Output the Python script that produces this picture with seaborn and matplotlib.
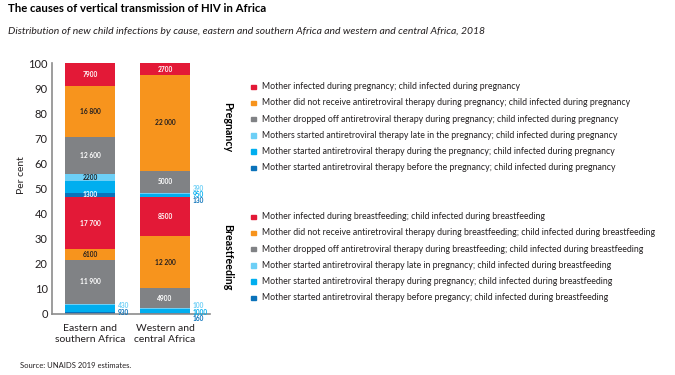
import matplotlib
matplotlib.use("Agg")
import numpy as np
import pandas as pd
import matplotlib.pyplot as plt
import seaborn as sns

# Categories on the x axis
regions = ["Eastern and\nsouthern Africa", "Western and\ncentral Africa"]

# Segment heights (per cent), bottom to top:
# breastfeeding (before, during, late, dropped off, no ART, infected),
# then pregnancy in the same order
east_pct = [0.8, 2.7, 0.6, 17.5, 4.2, 20.9, 1.6, 4.7, 2.6, 14.8, 20.4, 9.2]
west_pct = [0.2, 1.8, 0.3, 7.9, 20.9, 15.5, 0.2, 1.0, 0.5, 8.8, 38.1, 4.8]

# Counts written inside the segments
east_labels = ["", "", "", "11 900", "6100", "17 700", "1300", "", "2200", "12 600", "16 800", "7900"]
west_labels = ["", "", "", "4900", "12 200", "8500", "", "", "", "5000", "22 000", "2700"]

# Counts written beside the bars: (bar, segment, text)
side_labels = [(0, 2, "430"), (0, 0, "930"),
               (1, 8, "390"), (1, 7, "950"), (1, 6, "130"),
               (1, 2, "100"), (1, 1, "1000"), (1, 0, "160")]

preg_legend = [
    "Mother infected during pregnancy; child infected during pregnancy",
    "Mother did not receive antiretroviral therapy during pregnancy; child infected during pregnancy",
    "Mother dropped off antiretroviral therapy during pregnancy; child infected during pregnancy",
    "Mothers started antiretroviral therapy late in the pregnancy; child infected during pregnancy",
    "Mother started antiretroviral therapy during the pregnancy; child infected during pregnancy",
    "Mother started antiretroviral therapy before the pregnancy; child infected during pregnancy",
]
bf_legend = [
    "Mother infected during breastfeeding; child infected during breastfeeding",
    "Mother did not receive antiretroviral therapy during breastfeeding; child infected during breastfeeding",
    "Mother dropped off antiretroviral therapy during breastfeeding; child infected during breastfeeding",
    "Mother started antiretroviral therapy late in pregnancy; child infected during breastfeeding",
    "Mother started antiretroviral therapy during pregnancy; child infected during breastfeeding",
    "Mother started antiretroviral therapy before pregancy; child infected during breastfeeding",
]

RED, ORANGE, GREY = "#e31937", "#f7941d", "#808285"
LIGHT, MID, DARK = "#6dcff6", "#00aeef", "#0a72ba"
seg_colors = [DARK, MID, LIGHT, GREY, ORANGE, RED] * 2
legend_colors = [RED, ORANGE, GREY, LIGHT, MID, DARK]
text_dark = "#231f20"

sns.set_style("white")
plt.rcParams["font.family"] = ["Lato", "DejaVu Sans"]

W, H = 675, 375
fig = plt.figure(figsize=(W / 100, H / 100), dpi=100)


def fx(px):
    return px / W


def fy(py):
    return 1 - py / H


ax = fig.add_axes([fx(52), fy(314), fx(158), 251 / H])

# Stacked bars: draw cumulative tops from the highest layer down
pct = np.array([east_pct, west_pct])
tops = pct.cumsum(axis=1)
for i in range(pct.shape[1] - 1, -1, -1):
    df = pd.DataFrame({"region": regions, "top": tops[:, i]})
    sns.barplot(data=df, x="region", y="top", color=seg_colors[i],
                saturation=1, width=0.667, linewidth=0, ax=ax)

# Labels inside the segments
white_on = {RED, GREY, MID, DARK}
for b, labels in enumerate([east_labels, west_labels]):
    for i, lab in enumerate(labels):
        if not lab:
            continue
        mid = tops[b, i] - pct[b, i] / 2
        col = "white" if seg_colors[i] in white_on else text_dark
        ax.text(b, mid, lab, ha="center", va="center", fontsize=4.8,
                fontweight="bold", color=col)

# Labels beside the bars (vertical nudge in pixels)
side_offsets = [-1, 0, 4.4, 0.3, -4.2, 3.1, -0.8, -4.8]
for (b, i, lab), dy in zip(side_labels, side_offsets):
    mid = tops[b, i] - pct[b, i] / 2
    ax.annotate(lab, (b + 0.345, mid), xytext=(1.5, dy * 0.72),
                textcoords="offset points", ha="left", va="center",
                fontsize=4.7, fontweight="bold", color=seg_colors[i],
                annotation_clip=False)

ax.set_xlim(-0.507, 1.6)
ax.set_ylim(0, 100)
ax.set_yticks(range(0, 101, 10))
ax.set_xlabel("")
ax.set_ylabel("")
ax.tick_params(axis="both", length=0, colors=text_dark)
ax.tick_params(axis="y", labelsize=8, pad=3)
ax.tick_params(axis="x", labelsize=7.5, pad=7)
for t in ax.get_xticklabels():
    t.set_linespacing(1.3)
sns.despine(ax=ax)
for s in ["left", "bottom"]:
    ax.spines[s].set_color("#8c8c8c")
    ax.spines[s].set_linewidth(1.2)

fig.text(fx(21), fy(175), "Per cent", rotation=90, ha="center", va="center",
         fontsize=7.5, color=text_dark)

# Titles and source
fig.text(fx(8), fy(3), "The causes of vertical transmission of HIV in Africa",
         fontsize=8.2, fontweight="bold", va="top", color="black")
fig.text(fx(8), fy(27),
         "Distribution of new child infections by cause, eastern and southern Africa "
         "and western and central Africa, 2018",
         fontsize=7.45, style="italic", va="top", color=text_dark)
fig.text(fx(20), fy(366), "Source: UNAIDS 2019 estimates.", fontsize=5.5,
         va="center", color=text_dark)

# Group headings and legends
fig.text(fx(228), fy(127), "Pregnancy", rotation=270, ha="center", va="center",
         fontsize=7.7, fontweight="bold", color="black")
fig.text(fx(228), fy(257), "Breastfeeding", rotation=270, ha="center", va="center",
         fontsize=7.7, fontweight="bold", color="black")

for y0, entries in [(86.7, preg_legend), (216.7, bf_legend)]:
    for k, (lab, col) in enumerate(zip(entries, legend_colors)):
        y = y0 + k * 16.2
        fig.patches.append(plt.Rectangle((fx(251), fy(y + 2.3)), fx(4.5), 4.5 / H,
                                         transform=fig.transFigure, color=col))
        fig.text(fx(262), fy(y), lab, fontsize=6.3, va="center", color=text_dark)

fig.savefig("out.png", dpi=100)
